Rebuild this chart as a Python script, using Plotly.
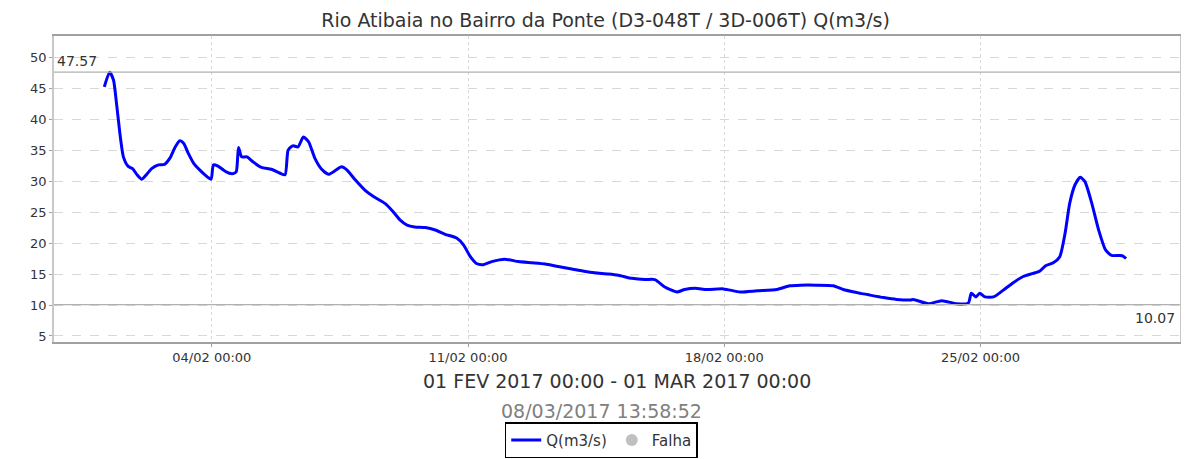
import plotly.graph_objects as go

# ---- data ----
times = [
    "2017-02-01 01:30", "2017-02-01 05:00", "2017-02-01 07:30", "2017-02-01 09:30",
    "2017-02-01 12:00", "2017-02-01 14:00", "2017-02-01 17:00", "2017-02-01 20:00",
    "2017-02-01 23:00", "2017-02-02 02:00", "2017-02-02 05:00", "2017-02-02 08:30",
    "2017-02-02 13:00", "2017-02-02 17:00", "2017-02-02 20:30", "2017-02-03 00:00",
    "2017-02-03 03:00", "2017-02-03 05:30", "2017-02-03 08:30", "2017-02-03 12:00",
    "2017-02-03 16:00", "2017-02-03 19:30", "2017-02-03 23:30", "2017-02-04 01:00",
    "2017-02-04 04:00", "2017-02-04 07:30", "2017-02-04 11:00", "2017-02-04 14:00",
    "2017-02-04 16:00", "2017-02-04 17:30", "2017-02-04 19:30", "2017-02-04 23:00",
    "2017-02-05 03:00", "2017-02-05 08:30", "2017-02-05 15:00", "2017-02-05 20:30",
    "2017-02-06 00:00", "2017-02-06 02:00", "2017-02-06 04:30", "2017-02-06 05:30",
    "2017-02-06 08:30", "2017-02-06 12:00", "2017-02-06 15:30", "2017-02-06 19:30",
    "2017-02-07 00:00", "2017-02-07 04:30", "2017-02-07 09:00", "2017-02-07 13:00",
    "2017-02-07 16:30", "2017-02-07 22:00", "2017-02-08 04:30", "2017-02-08 10:00",
    "2017-02-08 17:30", "2017-02-08 22:00", "2017-02-09 03:30", "2017-02-09 08:00",
    "2017-02-09 13:00", "2017-02-09 20:00", "2017-02-10 02:30", "2017-02-10 09:00",
    "2017-02-10 16:30", "2017-02-10 21:00", "2017-02-11 01:30", "2017-02-11 05:30",
    "2017-02-11 10:00", "2017-02-11 15:30", "2017-02-12 00:00", "2017-02-12 09:00",
    "2017-02-12 18:00", "2017-02-13 02:30", "2017-02-13 11:00", "2017-02-13 20:00",
    "2017-02-14 05:00", "2017-02-14 11:00", "2017-02-14 20:00", "2017-02-15 02:30",
    "2017-02-15 11:30", "2017-02-15 20:00", "2017-02-16 02:30", "2017-02-16 09:00",
    "2017-02-16 17:00", "2017-02-16 22:00", "2017-02-17 05:00", "2017-02-17 12:30",
    "2017-02-17 23:30", "2017-02-18 10:30", "2017-02-18 21:30", "2017-02-19 10:30",
    "2017-02-19 19:00", "2017-02-20 02:00", "2017-02-20 12:30", "2017-02-20 23:30",
    "2017-02-21 06:00", "2017-02-21 15:00", "2017-02-21 23:30", "2017-02-22 08:30",
    "2017-02-22 17:00", "2017-02-23 02:00", "2017-02-23 04:00", "2017-02-23 14:00",
    "2017-02-23 22:30", "2017-02-24 08:30", "2017-02-24 16:00", "2017-02-24 18:00",
    "2017-02-24 21:00", "2017-02-24 23:30", "2017-02-25 03:00", "2017-02-25 08:30",
    "2017-02-25 15:00", "2017-02-25 21:30", "2017-02-26 04:00", "2017-02-26 10:30",
    "2017-02-26 15:00", "2017-02-26 18:30", "2017-02-26 23:45", "2017-02-27 04:00",
    "2017-02-27 07:30", "2017-02-27 10:30", "2017-02-27 14:00", "2017-02-27 17:30",
    "2017-02-27 20:30", "2017-02-28 01:00", "2017-02-28 05:30", "2017-02-28 10:00",
    "2017-02-28 14:00", "2017-02-28 19:30", "2017-02-28 21:30", "2017-02-28 23:30",
]
flow = [
    45.2, 47.57, 46.3, 42.5,
    37.1, 33.9, 32.4, 32.0,
    31.0, 30.3, 31.0, 32.0,
    32.6, 32.7, 33.7, 35.5,
    36.5, 36.1, 34.5, 32.9,
    31.8, 31.0, 30.3, 32.6,
    32.4, 31.8, 31.3, 31.2,
    31.5, 35.4, 33.9, 33.9,
    33.1, 32.2, 31.9, 31.3,
    31.0, 35.0, 35.6, 35.7,
    35.5, 37.1, 36.3, 33.7,
    31.9, 31.1, 31.7, 32.3,
    31.8, 30.2, 28.5, 27.5,
    26.4, 25.3, 23.7, 22.9,
    22.6, 22.5, 22.1, 21.4,
    20.8, 19.7, 17.8, 16.7,
    16.5, 17.0, 17.4, 17.0,
    16.8, 16.6, 16.2, 15.8,
    15.4, 15.2, 15.0, 14.8,
    14.3, 14.1, 14.1, 12.9,
    12.1, 12.5, 12.7, 12.5,
    12.6, 12.1, 12.3, 12.5,
    13.1, 13.2, 13.2, 13.1,
    12.5, 12.0, 11.6, 11.2,
    10.9, 10.8, 10.9, 10.2,
    10.7, 10.2, 10.3, 11.9,
    11.3, 11.9, 11.3, 11.3,
    12.4, 13.6, 14.6, 15.1,
    15.5, 16.3, 16.8, 17.8,
    21.6, 26.4, 29.4, 30.6,
    29.9, 26.4, 22.1, 18.9,
    18.0, 18.0, 17.9, 17.5,
]
max_value = 47.57
min_value = 10.07
x_tick_vals = ["2017-02-04 00:00", "2017-02-11 00:00", "2017-02-18 00:00", "2017-02-25 00:00"]
x_tick_text = ["04/02 00:00", "11/02 00:00", "18/02 00:00", "25/02 00:00"]
y_tick_vals = [5, 10, 15, 20, 25, 30, 35, 40, 45, 50]

title_text = "Rio Atibaia no Bairro da Ponte (D3-048T / 3D-006T) Q(m3/s)"
period_text = "01 FEV 2017 00:00 - 01 MAR 2017 00:00"
stamp_text = "08/03/2017 13:58:52"

FONT = "DejaVu Sans"

fig = go.Figure()
fig.add_trace(go.Scatter(
    x=times, y=flow, mode="lines", name="Q(m3/s)",
    line=dict(color="#0000ff", width=3, shape="spline", smoothing=0.6),
))
fig.add_trace(go.Scatter(
    x=[None], y=[None], mode="markers", name="Falha",
    marker=dict(color="#c0c0c0", size=12, symbol="circle"),
))

# reference lines for max/min
for v in (max_value, min_value):
    fig.add_shape(type="line", xref="paper", x0=0, x1=1, yref="y", y0=v, y1=v,
                  line=dict(color="#b0b0b0", width=1.2))

fig.add_annotation(x=0, xref="paper", y=max_value, yref="y", text=f"{max_value:.2f}",
                   showarrow=False, xanchor="left", yanchor="bottom", xshift=1, yshift=1,
                   font=dict(family=FONT, size=14, color="#333333"))
fig.add_annotation(x=1, xref="paper", y=min_value, yref="y", text=f"{min_value:.2f}",
                   showarrow=False, xanchor="right", yanchor="top", xshift=-3, yshift=-3,
                   font=dict(family=FONT, size=14, color="#333333"))

fig.add_annotation(x=0.5, xref="paper", y=-0.1275, yref="paper", text=period_text,
                   showarrow=False, xanchor="center", yanchor="middle",
                   font=dict(family=FONT, size=19, color="#333333"))
fig.add_annotation(x=0.486, xref="paper", y=-0.2255, yref="paper", text=stamp_text,
                   showarrow=False, xanchor="center", yanchor="middle",
                   font=dict(family=FONT, size=19, color="#808080"))

# the page places the figure 8px from the top-left corner of the window
fig.update_layout(
    width=1181, height=451,
    margin=dict(l=46, r=9, t=28, b=117, autoexpand=False),
    paper_bgcolor="white", plot_bgcolor="white",
    font=dict(family=FONT, size=13, color="#333333"),
    title=dict(text=title_text, x=0.506, xanchor="center", y=0.9734, yanchor="middle",
               font=dict(family=FONT, size=19, color="#333333")),
    showlegend=True,
    legend=dict(orientation="h", x=0.486, xanchor="center", y=-0.262, yanchor="top",
                bordercolor="#000000", borderwidth=1.5, bgcolor="white",
                font=dict(family=FONT, size=15, color="#333333"),
                itemwidth=30, tracegroupgap=0),
    xaxis=dict(
        range=["2017-01-30 16:30", "2017-03-02 10:50"],
        tickvals=x_tick_vals, ticktext=x_tick_text,
        showgrid=True, gridcolor="#d8d8d8", griddash="dot", gridwidth=1,
        showline=True, linecolor="#a0a0a0", linewidth=1.5, mirror=True,
        ticks="outside", ticklen=3, tickcolor="#a0a0a0",
        tickfont=dict(family=FONT, size=13, color="#333333"),
        zeroline=False, automargin=False,
    ),
    yaxis=dict(
        range=[4.03, 53.4],
        tickvals=y_tick_vals,
        showgrid=True, gridcolor="#d8d8d8", griddash="dash", gridwidth=1,
        showline=True, linecolor="#c8c8c8", linewidth=1.5, mirror=True,
        ticks="outside", ticklen=3, tickcolor="#a0a0a0",
        tickfont=dict(family=FONT, size=13, color="#333333"),
        zeroline=False, automargin=False,
    ),
)

fig.write_html("out.html")
